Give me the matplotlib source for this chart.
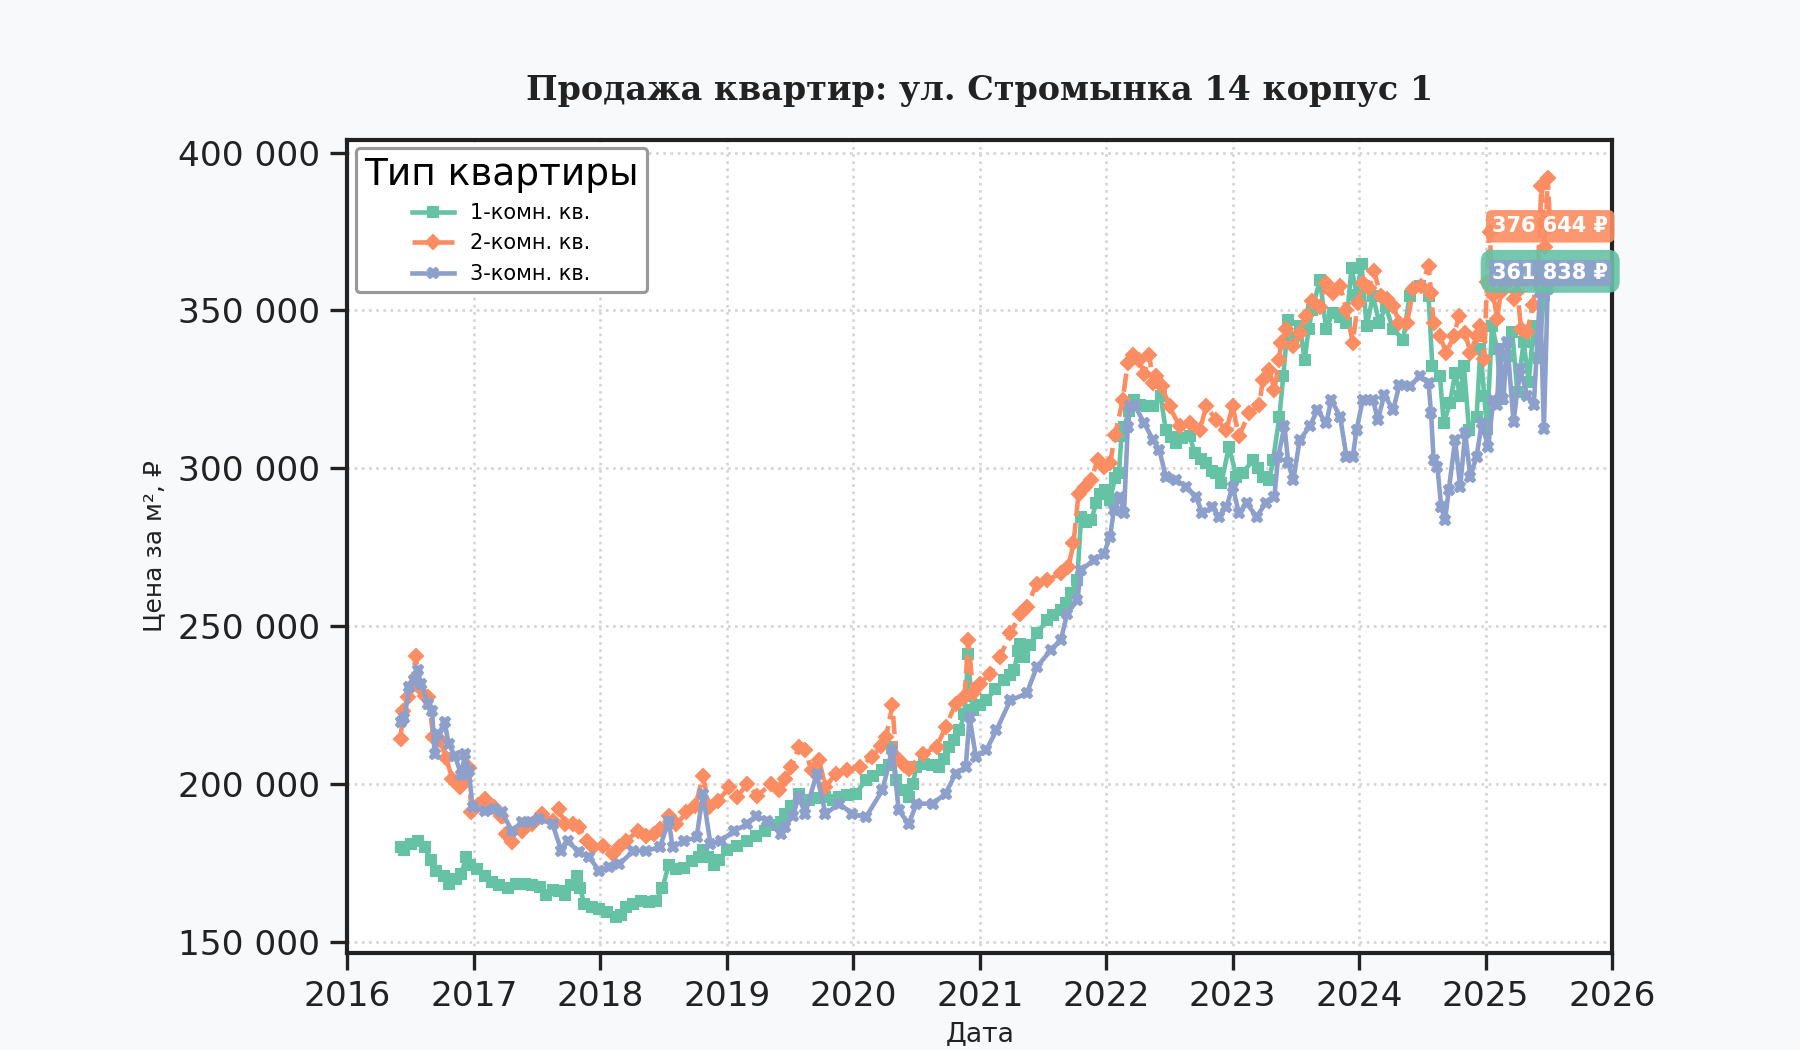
import matplotlib
matplotlib.use("Agg")
import matplotlib.pyplot as plt
import matplotlib.dates as mdates
from matplotlib.ticker import FuncFormatter
import pandas as pd

# --- data (decimal year, price per m2 in thousands of rubles) ---
years_1k = [2016.42, 2016.45, 2016.50, 2016.56, 2016.61, 2016.66, 2016.70, 2016.76, 2016.80, 2016.86,
            2016.90, 2016.94, 2016.97, 2017.02, 2017.09, 2017.14, 2017.20, 2017.27, 2017.33, 2017.40,
            2017.46, 2017.52, 2017.57, 2017.62, 2017.67, 2017.72, 2017.77, 2017.81, 2017.84, 2017.87,
            2017.93, 2017.99, 2018.05, 2018.12, 2018.16, 2018.20, 2018.26, 2018.32, 2018.38, 2018.44,
            2018.49, 2018.54, 2018.60, 2018.66, 2018.72, 2018.78, 2018.81, 2018.85, 2018.90, 2018.94,
            2019.00, 2019.08, 2019.16, 2019.23, 2019.30, 2019.37, 2019.43, 2019.46, 2019.51, 2019.57,
            2019.65, 2019.72, 2019.78, 2019.84, 2019.89, 2019.95, 2020.02, 2020.10, 2020.16, 2020.23,
            2020.28, 2020.31, 2020.34, 2020.40, 2020.44, 2020.47, 2020.50, 2020.56, 2020.62, 2020.68,
            2020.72, 2020.76, 2020.80, 2020.84, 2020.88, 2020.91, 2020.93, 2020.95, 2021.00, 2021.05,
            2021.12, 2021.19, 2021.24, 2021.27, 2021.30, 2021.32, 2021.35, 2021.40, 2021.45, 2021.53,
            2021.58, 2021.64, 2021.68, 2021.72, 2021.77, 2021.80, 2021.84, 2021.88, 2021.92, 2021.95,
            2021.99, 2022.03, 2022.07, 2022.10, 2022.12, 2022.14, 2022.18, 2022.22, 2022.27, 2022.32,
            2022.37, 2022.43, 2022.47, 2022.51, 2022.55, 2022.60, 2022.66, 2022.70, 2022.75, 2022.79,
            2022.84, 2022.87, 2022.91, 2022.97, 2023.03, 2023.08, 2023.16, 2023.20, 2023.24, 2023.29,
            2023.32, 2023.37, 2023.40, 2023.44, 2023.48, 2023.53, 2023.57, 2023.60, 2023.63, 2023.69,
            2023.74, 2023.79, 2023.85, 2023.90, 2023.94, 2023.98, 2024.02, 2024.06, 2024.11, 2024.16,
            2024.21, 2024.27, 2024.35, 2024.40, 2024.48, 2024.55, 2024.58, 2024.64, 2024.67, 2024.72,
            2024.76, 2024.80, 2024.83, 2024.87, 2024.93, 2024.96, 2024.99, 2025.01, 2025.05, 2025.09,
            2025.12, 2025.17, 2025.21, 2025.25, 2025.30, 2025.34, 2025.38, 2025.42, 2025.46, 2025.51]
price_1k = [180.0, 179.0, 181.0, 182.0, 180.0, 176.0, 172.5, 171.0, 168.5, 170.0,
            171.5, 177.0, 174.5, 173.0, 171.0, 169.0, 168.0, 167.0, 168.5, 168.5,
            168.0, 167.5, 165.0, 166.5, 166.0, 165.0, 168.0, 171.0, 167.0, 162.0,
            161.0, 160.5, 159.5, 157.8, 158.5, 161.0, 162.0, 163.0, 162.5, 163.0,
            167.0, 174.5, 173.0, 173.5, 175.5, 177.0, 179.0, 177.0, 174.5, 176.0,
            179.0, 180.5, 182.0, 183.5, 185.0, 187.0, 188.0, 190.5, 193.0, 197.0,
            194.8, 195.5, 195.9, 195.0, 195.9, 196.5, 197.0, 201.2, 202.5, 204.3,
            206.0, 211.7, 201.2, 198.0, 195.9, 200.0, 205.4, 206.5, 206.0, 205.4,
            208.0, 211.7, 214.0, 217.0, 222.3, 241.3, 228.0, 223.4, 225.0, 226.5,
            230.0, 232.9, 234.5, 236.0, 242.0, 244.5, 240.3, 244.0, 247.7, 251.9,
            253.5, 255.1, 257.5, 260.4, 264.6, 284.7, 283.0, 283.6, 289.0, 292.0,
            293.1, 290.0, 297.0, 298.4, 310.1, 313.2, 318.0, 321.7, 320.0, 319.6,
            319.6, 322.8, 312.2, 310.0, 308.0, 309.5, 310.1, 304.8, 303.0, 301.6,
            299.0, 298.4, 295.3, 306.9, 297.4, 298.4, 302.7, 300.0, 297.4, 296.3,
            302.7, 316.4, 329.1, 347.1, 339.7, 345.0, 334.4, 344.0, 350.3, 359.8,
            344.0, 349.3, 348.0, 346.1, 363.6, 355.0, 364.6, 345.0, 354.6, 346.1,
            351.4, 344.0, 340.8, 354.6, 357.7, 354.6, 332.3, 329.1, 314.3, 320.7,
            330.2, 322.8, 332.3, 312.2, 316.4, 337.9, 323.0, 312.5, 345.2, 337.9,
            322.0, 335.7, 343.1, 324.1, 340.0, 327.3, 345.2, 335.0, 355.0, 362.4]

years_2k = [2016.42, 2016.44, 2016.48, 2016.51, 2016.54, 2016.57, 2016.61, 2016.64, 2016.68, 2016.73,
            2016.78, 2016.83, 2016.89, 2016.93, 2016.96, 2016.98, 2017.03, 2017.09, 2017.16, 2017.21,
            2017.25, 2017.30, 2017.38, 2017.46, 2017.54, 2017.62, 2017.67, 2017.72, 2017.78, 2017.83,
            2017.89, 2017.94, 2018.02, 2018.10, 2018.15, 2018.20, 2018.30, 2018.36, 2018.42, 2018.47,
            2018.54, 2018.60, 2018.68, 2018.75, 2018.81, 2018.86, 2018.93, 2019.02, 2019.08, 2019.16,
            2019.24, 2019.35, 2019.41, 2019.46, 2019.51, 2019.57, 2019.62, 2019.67, 2019.73, 2019.78,
            2019.86, 2019.95, 2020.05, 2020.15, 2020.22, 2020.26, 2020.31, 2020.34, 2020.40, 2020.44,
            2020.55, 2020.66, 2020.73, 2020.81, 2020.88, 2020.91, 2020.95, 2021.00, 2021.08, 2021.16,
            2021.24, 2021.32, 2021.37, 2021.45, 2021.53, 2021.64, 2021.70, 2021.74, 2021.78, 2021.83,
            2021.88, 2021.93, 2021.98, 2022.03, 2022.07, 2022.13, 2022.17, 2022.21, 2022.26, 2022.30,
            2022.34, 2022.37, 2022.39, 2022.44, 2022.50, 2022.58, 2022.66, 2022.74, 2022.79, 2022.87,
            2022.95, 2023.00, 2023.05, 2023.13, 2023.21, 2023.24, 2023.29, 2023.33, 2023.37, 2023.38,
            2023.42, 2023.48, 2023.53, 2023.58, 2023.63, 2023.69, 2023.74, 2023.79, 2023.85, 2023.90,
            2023.95, 2023.99, 2024.03, 2024.08, 2024.12, 2024.17, 2024.22, 2024.27, 2024.32, 2024.38,
            2024.43, 2024.49, 2024.55, 2024.57, 2024.59, 2024.64, 2024.69, 2024.75, 2024.79, 2024.84,
            2024.88, 2024.93, 2024.96, 2024.99, 2025.01, 2025.03, 2025.06, 2025.09, 2025.12, 2025.17,
            2025.22, 2025.25, 2025.28, 2025.33, 2025.37, 2025.41, 2025.44, 2025.47, 2025.49, 2025.51]
price_2k = [214.3, 223.0, 227.5, 231.0, 240.6, 230.6, 228.0, 227.5, 214.8, 214.0,
            208.4, 201.6, 199.0, 201.0, 205.0, 191.0, 193.5, 195.2, 192.6, 190.0,
            184.2, 181.5, 185.2, 187.3, 190.5, 188.4, 192.0, 187.3, 187.5, 186.3,
            182.0, 180.0, 180.5, 177.8, 180.0, 182.0, 185.2, 183.5, 184.2, 185.7,
            190.0, 187.3, 191.0, 193.0, 202.6, 192.6, 194.7, 199.0, 195.8, 200.0,
            196.3, 200.0, 198.0, 201.5, 205.4, 211.7, 210.7, 204.3, 207.5, 199.0,
            203.3, 204.3, 205.4, 208.6, 212.0, 214.9, 225.0, 208.6, 206.0, 204.9,
            209.6, 211.7, 218.0, 225.5, 227.6, 245.6, 228.7, 231.8, 235.0, 240.3,
            247.7, 254.0, 256.1, 263.5, 264.6, 266.7, 268.8, 276.2, 292.0, 294.0,
            296.3, 302.6, 300.5, 301.6, 310.6, 321.7, 333.4, 336.0, 334.4, 330.0,
            336.0, 327.0, 329.1, 326.0, 319.6, 313.3, 314.3, 312.2, 319.6, 315.4,
            312.2, 319.6, 310.1, 317.5, 320.1, 328.1, 331.3, 324.9, 334.4, 339.7,
            344.0, 338.7, 342.9, 348.2, 353.0, 351.0, 358.8, 355.6, 357.7, 350.3,
            339.7, 352.4, 358.8, 357.0, 362.5, 354.6, 353.5, 351.4, 346.1, 346.1,
            356.7, 357.7, 364.1, 355.6, 346.1, 341.8, 336.6, 341.8, 348.2, 342.9,
            336.6, 341.8, 345.0, 334.7, 359.0, 375.0, 355.0, 347.4, 355.8, 359.0,
            353.7, 355.8, 344.2, 343.1, 351.6, 360.0, 389.4, 370.0, 392.0, 376.644]

years_3k = [2016.42, 2016.45, 2016.49, 2016.53, 2016.56, 2016.58, 2016.64, 2016.67, 2016.69, 2016.72,
            2016.77, 2016.80, 2016.85, 2016.90, 2016.93, 2016.96, 2016.99, 2017.09, 2017.16, 2017.22,
            2017.30, 2017.38, 2017.45, 2017.51, 2017.62, 2017.69, 2017.74, 2017.83, 2017.91, 2017.99,
            2018.07, 2018.15, 2018.26, 2018.36, 2018.47, 2018.54, 2018.57, 2018.66, 2018.76, 2018.81,
            2018.87, 2018.95, 2019.06, 2019.16, 2019.23, 2019.32, 2019.43, 2019.46, 2019.52, 2019.57,
            2019.62, 2019.71, 2019.78, 2019.89, 2019.99, 2020.10, 2020.23, 2020.31, 2020.36, 2020.44,
            2020.50, 2020.63, 2020.73, 2020.81, 2020.89, 2020.92, 2020.97, 2021.05, 2021.13, 2021.24,
            2021.37, 2021.45, 2021.56, 2021.64, 2021.69, 2021.77, 2021.80, 2021.90, 2021.98, 2022.03,
            2022.06, 2022.11, 2022.14, 2022.17, 2022.19, 2022.23, 2022.30, 2022.37, 2022.42, 2022.47,
            2022.55, 2022.63, 2022.71, 2022.76, 2022.84, 2022.89, 2022.95, 2023.00, 2023.05, 2023.11,
            2023.19, 2023.26, 2023.33, 2023.36, 2023.41, 2023.44, 2023.48, 2023.53, 2023.61, 2023.67,
            2023.74, 2023.78, 2023.85, 2023.90, 2023.95, 2023.98, 2024.03, 2024.11, 2024.15, 2024.20,
            2024.27, 2024.32, 2024.40, 2024.48, 2024.55, 2024.57, 2024.59, 2024.62, 2024.65, 2024.68,
            2024.71, 2024.76, 2024.80, 2024.84, 2024.88, 2024.93, 2024.97, 2025.02, 2025.06, 2025.09,
            2025.11, 2025.14, 2025.17, 2025.22, 2025.27, 2025.33, 2025.38, 2025.43, 2025.46, 2025.49,
            2025.51]
price_3k = [219.5, 221.0, 230.6, 233.0, 236.0, 231.7, 225.3, 223.0, 209.5, 215.8,
            219.5, 212.7, 209.0, 203.0, 209.5, 204.2, 192.6, 191.6, 192.0, 191.0,
            185.2, 187.9, 188.0, 189.0, 187.3, 178.9, 182.0, 178.4, 176.8, 172.5,
            173.6, 174.6, 178.9, 178.9, 180.0, 188.4, 180.0, 182.0, 183.1, 196.8,
            181.0, 182.0, 185.2, 187.3, 190.0, 188.4, 184.2, 186.4, 190.0, 195.9,
            190.6, 203.3, 190.6, 193.8, 190.6, 189.5, 198.0, 210.7, 191.7, 187.4,
            193.8, 193.8, 197.0, 203.3, 205.4, 221.3, 208.6, 210.7, 217.0, 226.5,
            228.7, 237.1, 242.4, 245.6, 254.0, 258.2, 267.8, 270.9, 273.0, 278.3,
            286.8, 291.0, 285.7, 313.2, 319.6, 319.6, 314.3, 309.0, 305.8, 297.4,
            296.3, 294.2, 291.0, 285.7, 287.8, 284.7, 287.8, 294.2, 285.7, 288.9,
            284.7, 288.9, 291.0, 303.7, 313.3, 301.6, 296.3, 309.0, 313.3, 318.5,
            314.3, 321.7, 316.4, 303.7, 303.7, 312.2, 321.7, 321.7, 315.4, 323.3,
            318.5, 326.5, 326.0, 329.1, 327.0, 317.5, 302.7, 300.5, 287.8, 283.6,
            293.1, 309.0, 294.2, 311.1, 297.4, 303.7, 314.3, 306.9, 321.7, 319.9,
            337.9, 322.0, 340.0, 314.6, 331.5, 323.0, 319.9, 355.8, 312.5, 356.9,
            361.838]

labels = ["1-комн. кв.", "2-комн. кв.", "3-комн. кв."]
colors = ["#66c2a5", "#fc8d62", "#8da0cb"]
last_text = ["362 415 ₽", "376 644 ₽", "361 838 ₽"]


def to_dates(years):
    return [pd.Timestamp(int(y), 1, 1) + pd.Timedelta(days=(y - int(y)) * 365.25) for y in years]


series = [(years_1k, price_1k), (years_2k, price_2k), (years_3k, price_3k)]
markers = ["s", "D", "X"]
msizes = [4.5, 4.5, 5]

fig, ax = plt.subplots(figsize=(12, 7), dpi=150)
fig.patch.set_facecolor("#f8f9fb")
ax.set_facecolor("white")

for (yrs, vals), lab, col, mk, ms in zip(series, labels, colors, markers, msizes):
    x = to_dates(yrs)
    y = [v * 1000 for v in vals]
    ln, = ax.plot(x, y, color=col, lw=2.2, marker=mk, ms=ms, label=lab)
    if mk == "D":
        ln.set_dashes((4, 1.5))

# value labels at the end of the series
pads = [0.55, 0.3, 0.15]
for i in range(3):
    yrs, vals = series[i]
    xe = to_dates([yrs[-1]])[0]
    ax.text(xe, vals[-1] * 1000, last_text[i], ha="center", va="center", color="white",
            fontsize=10, fontweight="bold", zorder=5,
            bbox=dict(boxstyle=f"round,pad={pads[i]}", fc=colors[i], ec="none", alpha=0.9))

ax.set_xlim(pd.Timestamp(2016, 1, 1), pd.Timestamp(2026, 1, 1))
ax.set_ylim(146500, 404000)
ax.xaxis.set_major_locator(mdates.YearLocator())
ax.xaxis.set_major_formatter(mdates.DateFormatter("%Y"))
ax.set_yticks([150000, 200000, 250000, 300000, 350000, 400000])
ax.yaxis.set_major_formatter(FuncFormatter(lambda v, p: f"{v:,.0f}".replace(",", " ")))

ax.grid(True, linestyle=":", color="#d6d6d6", lw=1.3)
for s in ax.spines.values():
    s.set_linewidth(2)
    s.set_color("#222222")
ax.tick_params(axis="both", labelsize=16.5, length=8, width=1.6, pad=5, colors="#222222")

ax.set_title("Продажа квартир: ул. Стромынка 14 корпус 1", family="DejaVu Serif",
             fontweight="bold", fontsize=16, pad=19, color="#222222")
ax.set_xlabel("Дата", fontsize=12.8, labelpad=4, color="#222222")
ax.set_ylabel("Цена за м², ₽", fontsize=12, labelpad=6, color="#222222")

leg = ax.legend(title="Тип квартиры", loc="upper left", fontsize=10, title_fontsize=18,
                frameon=True, framealpha=1, edgecolor="#999999", borderaxespad=0.4)
leg.get_frame().set_linewidth(1.5)

fig.subplots_adjust(left=0.193, right=0.8956, top=0.8667, bottom=0.0924)
fig.savefig("out.png", dpi=150, facecolor=fig.get_facecolor())
